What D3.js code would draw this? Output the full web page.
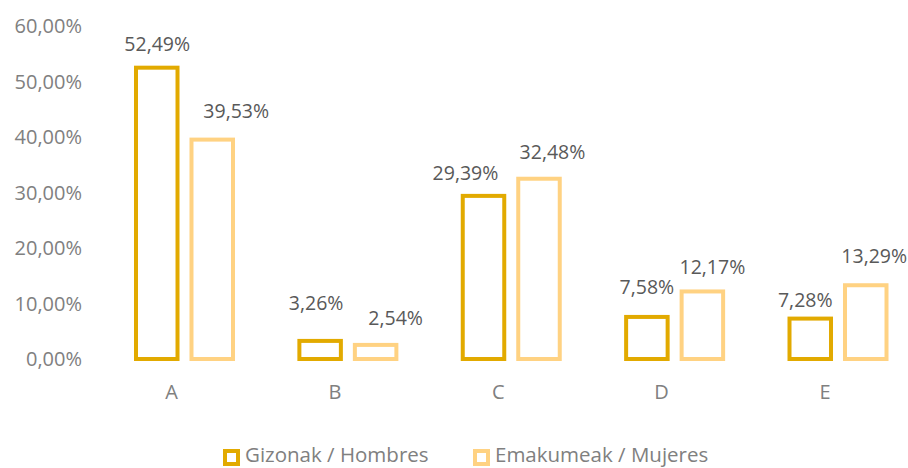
<!DOCTYPE html>
<html>
<head>
<meta charset="utf-8">
<script src="https://cdn.jsdelivr.net/npm/d3@7"></script>
<style>
  body { margin: 0; background: #fff; }
  svg { display: block; font-family: "Open Sans", sans-serif; }
</style>
</head>
<body>
<div id="main"></div>
<script>
// data
var categories = ["A", "B", "C", "D", "E"];
var seriesNames = ["Gizonak / Hombres", "Emakumeak / Mujeres"];
var hombres = [52.49, 3.26, 29.39, 7.58, 7.28];
var mujeres = [39.53, 2.54, 32.48, 12.17, 13.29];
var yTicks = [0, 10, 20, 30, 40, 50, 60];

// hand-placed data label nudges [dx, rise above bar], as in the original
var labelNudge = [
  [[0.5, 21.5], [-4, 35.5], [-18, 20.5], [0, 27.5], [-5, 16]],
  [[24, 26.5], [20, 24.5], [13.5, 25], [10, 22], [8.5, 27.5]]
];

var w = 908, h = 468;
var colors = ["#E2AA00", "#FFD282"];
var sw = 4;

var svg = d3.select("#main").append("svg")
  .attr("width", w)
  .attr("height", h);

var x = d3.scalePoint().domain(categories).range([184.5, 838]);
var xs = d3.scaleBand().domain([0, 1]).range([-50.5, 50.5]).paddingInner(0.18);
var y = d3.scaleLinear().domain([0, 60]).range([359, 26]);

var fmt = function (v) { return v.toFixed(2).replace(".", ",") + "%"; };

// y axis labels
svg.append("g").selectAll("text")
  .data(yTicks).enter().append("text")
  .attr("x", 82)
  .attr("y", function (d) { return y(d); })
  .attr("dy", "0.35em")
  .attr("text-anchor", "end")
  .attr("font-size", 20)
  .attr("fill", "#808080")
  .text(function (d) { return fmt(d); });

// category labels
svg.append("g").selectAll("text")
  .data(categories).enter().append("text")
  .attr("x", function (d) { return x(d) - 13; })
  .attr("y", 392)
  .attr("dy", "0.35em")
  .attr("text-anchor", "middle")
  .attr("font-size", 20)
  .attr("fill", "#808080")
  .text(function (d) { return d; });

var series = [hombres, mujeres];

series.forEach(function (vals, s) {
  var g = svg.append("g");
  var rows = categories.map(function (c, i) { return { cat: c, v: vals[i], n: labelNudge[s][i] }; });

  g.selectAll("rect").data(rows).enter().append("rect")
    .attr("x", function (d) { return x(d.cat) + xs(s) + sw / 2; })
    .attr("width", xs.bandwidth() - sw)
    .attr("y", function (d) { return y(d.v); })
    .attr("height", function (d) { return y(0) - y(d.v); })
    .attr("fill", "#fff")
    .attr("stroke", colors[s])
    .attr("stroke-width", sw);

  g.selectAll("text").data(rows).enter().append("text")
    .attr("x", function (d) { return x(d.cat) + xs(s) + xs.bandwidth() / 2 + d.n[0]; })
    .attr("y", function (d) { return y(d.v) - sw / 2 - d.n[1]; })
    .attr("dy", "0.35em")
    .attr("text-anchor", "middle")
    .attr("font-size", 19.5)
    .attr("fill", "#595959")
    .text(function (d) { return fmt(d.v); });
});

// legend
var legendX = [225, 475];
var legend = svg.append("g").selectAll("g")
  .data(seriesNames).enter().append("g")
  .attr("transform", function (d, i) { return "translate(" + legendX[i] + ",451)"; });

legend.append("rect")
  .attr("x", 0).attr("y", 0)
  .attr("width", 13).attr("height", 13)
  .attr("fill", "#fff")
  .attr("stroke", function (d, i) { return colors[i]; })
  .attr("stroke-width", sw);

legend.append("text")
  .attr("x", 20)
  .attr("y", 4)
  .attr("dy", "0.35em")
  .attr("font-size", 20.5)
  .attr("fill", "#808080")
  .text(function (d) { return d; });
</script>
</body>
</html>
